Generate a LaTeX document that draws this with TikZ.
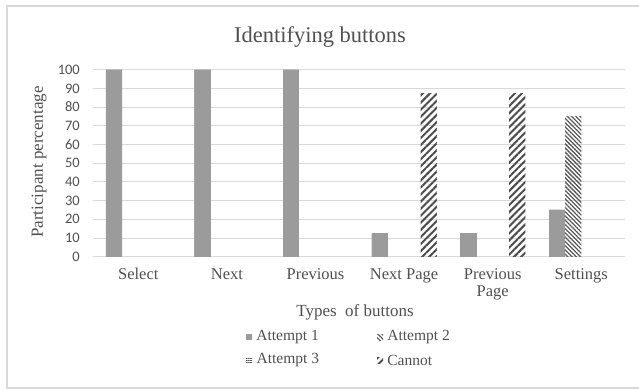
\documentclass[tikz,border=0pt]{standalone}
\usepackage{fontspec}
\setmainfont{Liberation Serif}
\newfontfamily\tickfont{Carlito}
\usepackage{xcolor}
\usetikzlibrary{patterns.meta, positioning}
\definecolor{gridgray}{HTML}{D9D9D9}
\definecolor{textgray}{HTML}{505050}

\begin{document}
\begin{tikzpicture}[x=1pt,y=1pt,
        grid line/.style={draw=gridgray, line width=1pt},
        tick/.style={anchor=east, inner sep=0pt, text=textgray, font=\tickfont\fontsize{14.5}{14.5}\selectfont},
        cat/.style={anchor=north, inner sep=0pt, align=center, text=textgray, font=\fontsize{16.5}{17}\selectfont},
        lbl/.style={inner sep=0pt, text=textgray, font=\fontsize{17}{17}\selectfont},
        a1/.style={fill=black!32, postaction={pattern={Dots[radius=0.6pt,distance=2pt]}, pattern color=black!62}},
        a2/.style={pattern={Lines[angle=-45,distance=3pt,line width=1.3pt]}, pattern color=black!65},
        a3/.style={pattern={Lines[angle=0,distance=2.2pt,line width=0.8pt]}, pattern color=black!65},
        cannot/.style={pattern={Lines[angle=45,distance=5pt,line width=2pt]}, pattern color=black!70},
        key/.style={minimum width=6pt, minimum height=6pt, inner sep=0pt},
        keytext/.style={right=4pt of #1, inner sep=0pt, text=textgray, font=\fontsize{15.5}{16}\selectfont}]

  \useasboundingbox (0,0) rectangle (639,389);
  \draw[draw=gridgray, line width=1.3pt] (639,383) -| (7,1) -- (639,1);

  \node[lbl, font=\fontsize{22.5}{23}\selectfont] (title) at (320,352) {Identifying buttons};

  \begin{scope}[shift={(94,132.3)}, y=1.87pt]
    \foreach \v in {0,10,...,100} {
      \draw[grid line] (-1,\v) -- (531,\v);
      \node[tick] (t_\v) at (-14,\v) {\v};
    }
    \foreach \c/\s/\v/\sty in {0/0/100/a1, 1/0/100/a1, 2/0/100/a1,
                               3/0/12.5/a1, 3/3/87.5/cannot,
                               4/0/12.5/a1, 4/3/87.5/cannot,
                               5/0/25/a1, 5/1/75/a2}
      \path[\sty] ({88.6*\c+11.8+16.3*\s},0) rectangle +(16.3,\v);
  \end{scope}

  \foreach \c/\t in {0/Select, 1/Next, 2/Previous, 3/Next Page, 4/{Previous\\Page}, 5/Settings}
    \node[cat] (lab_\c) at ({94+88.6*\c+44.3},121) {\t};

  \node[lbl, rotate=90] (ytitle) at (39,227) {Participant percentage};
  \node[lbl] (xtitle) at (355,77) {Types\ \ of buttons};

  \node[key, a1]     (key_1) at (249,52) {};
  \node[key, a2]     (key_2) at (380,52) {};
  \node[key, a3]     (key_3) at (249,29) {};
  \node[key, cannot] (key_4) at (380,29) {};
  \node[keytext=key_1] (txt_1) {Attempt 1};
  \node[keytext=key_2] (txt_2) {Attempt 2};
  \node[keytext=key_3] (txt_3) {Attempt 3};
  \node[keytext=key_4] (txt_4) {Cannot};
\end{tikzpicture}
\end{document}
